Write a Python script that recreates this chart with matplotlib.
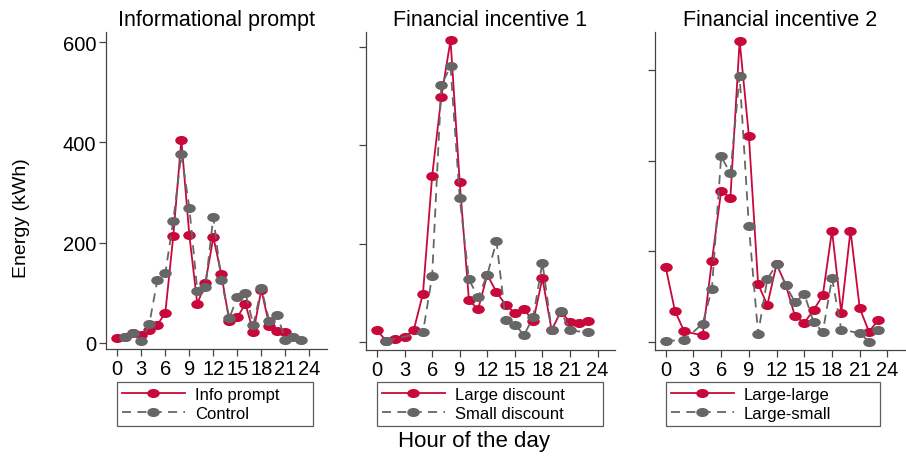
import numpy as np
import matplotlib
matplotlib.use('Agg')
import matplotlib.pyplot as plt
from matplotlib.path import Path
import matplotlib.transforms as mtransforms

nan = np.nan
hours = np.arange(24)
hour_ticks = [0, 3, 6, 9, 12, 15, 18, 21, 24]
energy_ticks = [0, 200, 400, 600]

# Informational prompt
info_prompt = [10, 11, 19, 15, 26, 36, 60, 214, 405, 215, 78, 119, 211, 137,
               43, 51, 78, 22, 106, 34, 24, 21, nan, nan]
control = [nan, 11, 20, 4, 38, 125, 139, 244, 377, 270, 104, 111, 251, 125,
           50, 91, 100, 36, 109, 43, 56, 5, 11, 5]

# Financial incentive 1
large_discount = [24, 3, 7, 11, 25, 99, 338, 499, 613, 325, 86, 67, 137, 102,
                  76, 60, 67, 43, 130, 25, 62, 41, 39, 44]
small_discount = [nan, 3, nan, nan, nan, 20, 135, 522, 560, 293, 128, 91, 137, 205,
                  45, 36, 15, 51, 162, 25, 63, 24, nan, 20]

# Financial incentive 2
large_large = [165, 69, 24, nan, 15, 179, 333, 318, 664, 455, 128, 82, 172, 126,
               57, 43, 71, 103, 246, 65, 246, 75, 23, 49]
large_small = [3, nan, 5, nan, 41, 118, 409, 372, 587, 256, 19, 139, 172, 125,
               88, 106, 45, 22, 141, 28, nan, 20, 1.5, 28]

titles = ['Informational prompt', 'Financial incentive 1', 'Financial incentive 2']
labels = [('Info prompt', 'Control'), ('Large discount', 'Small discount'),
          ('Large-large', 'Large-small')]

RED = '#C8083A'
GRAY = '#666666'
plt.rcParams['font.family'] = ['Liberation Sans', 'DejaVu Sans']

# squashed circle, the source image is stretched sideways
ell = Path.unit_circle().transformed(mtransforms.Affine2D().scale(1.45, 1.0))

W, H = 906, 460
fig = plt.figure(figsize=(W / 100, H / 100), dpi=100)

# axes boxes in pixels: left, right, bottom, top
boxes = [(106, 327, 350, 33), (366, 615, 351, 33), (655, 905, 351, 33)]
xlims = [(-1.41, 26.2), (-1.2, 25.9), (-1.16, 25.9)]
ylims = [(-12, 620), (-15.6, 630), (-17, 683)]
legend_px = [(117, 313), (377, 603), (666, 880)]

data = [(info_prompt, control), (large_discount, small_discount),
        (large_large, large_small)]

for i in range(3):
    l, r, b, t = boxes[i]
    ax = fig.add_axes([l / W, 1 - b / H, (r - l) / W, (b - t) / H])
    treat = np.array(data[i][0], dtype=float)
    ctrl = np.array(data[i][1], dtype=float)
    m = ~np.isnan(treat)
    ax.plot(hours[m], treat[m], color=RED, lw=1.3, marker=ell, ms=8,
            mfc=RED, mec=RED, label=labels[i][0], zorder=2)
    m = ~np.isnan(ctrl)
    ax.plot(hours[m], ctrl[m], color=GRAY, lw=1.3, ls=(0, (5, 3.5)), marker=ell,
            ms=8, mfc=GRAY, mec=GRAY, label=labels[i][1], zorder=3)

    ax.set_xlim(*xlims[i])
    ax.set_ylim(*ylims[i])
    ax.set_xticks(hour_ticks)
    ax.set_yticks(energy_ticks)
    for s in ['top', 'right']:
        ax.spines[s].set_visible(False)
    for s in ['left', 'bottom']:
        ax.spines[s].set_color('#444444')
        ax.spines[s].set_linewidth(0.9)
    ax.tick_params(direction='out', length=5, width=0.9, color='#444444',
                   labelsize=14.5, pad=2)
    if i > 0:
        ax.tick_params(axis='y', labelleft=False)
    ax.set_title(titles[i], fontsize=15.5, pad=5)

    x0, x1 = legend_px[i]
    leg = ax.legend(loc='upper left', bbox_to_anchor=(x0 / W, 1 - 383 / H, (x1 - x0) / W, 0),
                    bbox_transform=fig.transFigure, mode='expand', fontsize=12,
                    handlelength=3.8, handletextpad=0.6, labelspacing=0.26,
                    borderpad=0.28, borderaxespad=0, fancybox=False, frameon=True)
    leg.get_frame().set_edgecolor('#333333')
    leg.get_frame().set_linewidth(0.9)

fig.text(22 / W, 1 - 218 / H, 'Energy (kWh)', rotation=90, ha='center', va='center',
         fontsize=14)
fig.text(474 / W, 1 - 442 / H, 'Hour of the day', ha='center', va='center', fontsize=16)

fig.savefig('out.png', dpi=100, facecolor='white')
